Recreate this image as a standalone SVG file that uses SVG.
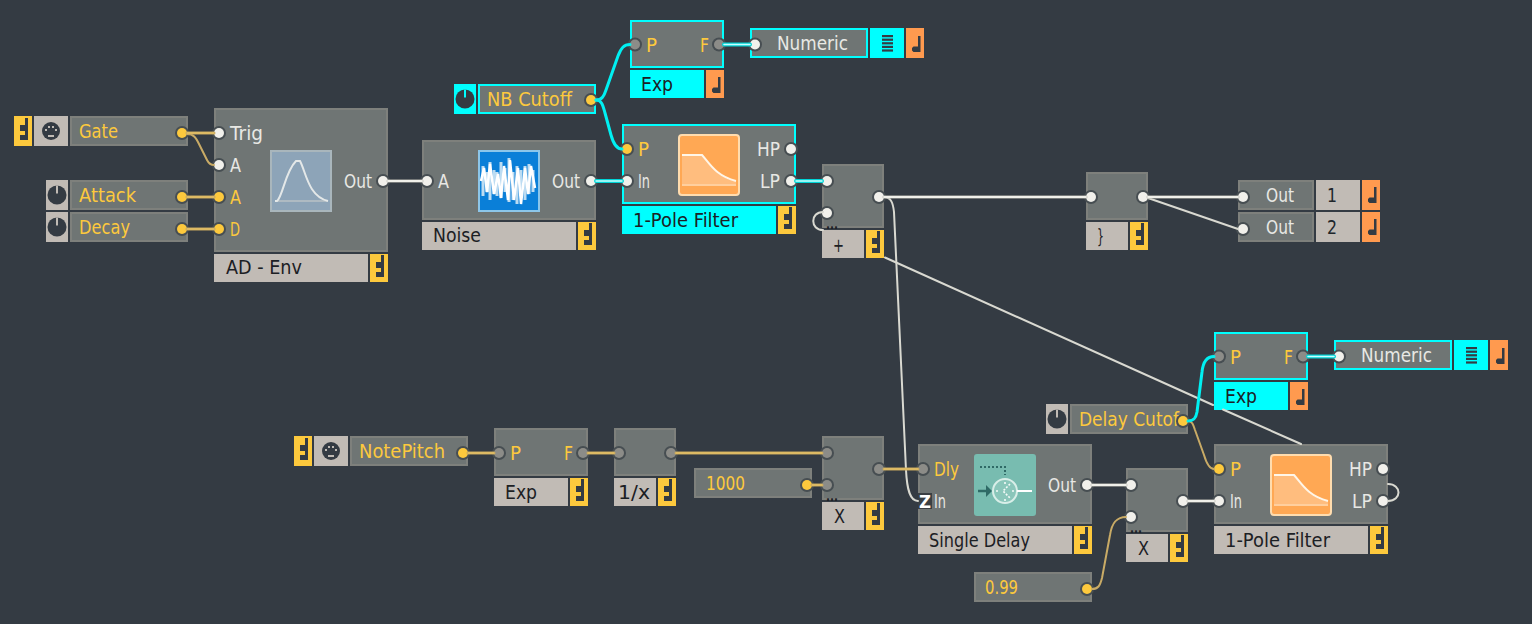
<svg xmlns="http://www.w3.org/2000/svg" width="1532" height="624" viewBox="0 0 1532 624">
<style>
text{font-family:"DejaVu Sans","Liberation Sans",sans-serif;font-size:20px;fill:#fff;transform:translate(0,1.5px)}
#node-gate text,#node-attack text,#node-decay text,#node-nbcutoff text,#node-numeric1 text,#node-numeric2 text,#node-out1 text,#node-out2 text,#node-notepitch text,#node-1000 text,#node-099 text,#node-delaycutoff text{transform:none}
.ty{fill:#fdc93d}.tw{fill:#e8e8e4}.tk{fill:#1c2024}.td{fill:#20262b}
.dots{font-size:14px;font-weight:bold}
.b{fill:#6f7574;stroke:#7e807c;stroke-width:2}
.c{fill:#6f7574;stroke:#00ffff;stroke-width:2}
.l{fill:#c1bbb5}.lc{fill:#00ffff}.y{fill:#fdc93d}.o{fill:#ff9a4f}
.h{fill:#474e52}
.pw{fill:#f1f0eb}.py{fill:#fdc93d}.pg{fill:#8c8c88}
.wire{fill:none;stroke-linecap:round;stroke-linejoin:round}
.w{stroke:#b9b9b2;stroke-width:3}.wc{stroke:#f0f0ea;stroke-width:1.800}
.thin{stroke:#d9d9d1;stroke-width:2}
.cy{stroke:#00d4d6;stroke-width:4}.cc{stroke:#c8ffff;stroke-width:1.500}
.cn{stroke:#00f0f2;stroke-width:3}
.t{stroke:#c4a55f;stroke-width:3}.tc{stroke:#f5cf6a;stroke-width:1.200}
.tn{stroke:#c9ab66;stroke-width:2}
.dk{fill:#343b43}
</style>
<defs>
<path id="ny" class="dk" d="M11 1h3v22h-8v-5h5v-4h-5v-6h5z"/>
<path id="no" class="dk" d="M12 7h2.500v16h-7l-1.500-1.500v-2.500l1.500-1.500h4.500z"/>
<g id="knob"><circle r="9.500" fill="#343b43"/><rect x="-1" y="-9.500" width="2" height="8" fill="#c1bbb5"/></g>
<g id="knobc"><circle r="9.500" fill="#343b43"/><rect x="-1" y="-9.500" width="2" height="8" fill="#00ffff"/></g>
<g id="midi"><circle r="9" fill="#343b43"/><g fill="#c1bbb5"><rect x="-6" y="-2" width="2" height="2"/><rect x="-3" y="-5" width="2" height="2"/><rect x="1" y="-5" width="2" height="2"/><rect x="4" y="-2" width="2" height="2"/><rect x="-3" y="4" width="6" height="2"/></g></g>
<g id="bars" class="dk"><rect width="11" height="2.200"/><rect y="3.600" width="11" height="2.200"/><rect y="7.200" width="11" height="2.200"/><rect y="10.800" width="11" height="2.200"/><rect y="14.400" width="11" height="2.200"/></g>
<g id="filt">
<rect x="1" y="1" width="60" height="60" rx="3" fill="#ffa854" stroke="#ffdcae" stroke-width="2"/>
<path d="M4 21H24C32 30 38 44 58 47V52H4z" fill="#ffbd7e"/>
<rect x="4" y="50" width="54" height="2" fill="#ffcf9e"/>
<path d="M4 21H24C32 30 38 42 58 47" fill="none" stroke="#fff6e8" stroke-width="2"/>
</g>
</defs>
<rect width="1532" height="624" fill="#343b43"/>

<g id="node-gate"><rect class="y" x="14" y="116" width="18" height="30"/><use href="#ny" x="14" y="117"/><rect class="l" x="34" y="116" width="34" height="30"/><use href="#midi" x="51" y="131"/><rect class="b" x="71" y="117" width="116" height="28"/><text class="ty" x="79" y="138" textLength="39" lengthAdjust="spacingAndGlyphs">Gate</text><circle class="h" cx="182" cy="133" r="7"/><circle class="py" cx="182" cy="133" r="5"/></g>
<g id="node-attack"><rect class="l" x="46" y="180" width="22" height="30"/><use href="#knob" x="57" y="195"/><rect class="b" x="71" y="181" width="116" height="28"/><text class="ty" x="79" y="202" textLength="57" lengthAdjust="spacingAndGlyphs">Attack</text><circle class="h" cx="182" cy="197" r="7"/><circle class="py" cx="182" cy="197" r="5"/></g>
<g id="node-decay"><rect class="l" x="46" y="212" width="22" height="30"/><use href="#knob" x="57" y="227"/><rect class="b" x="71" y="213" width="116" height="28"/><text class="ty" x="79" y="234" textLength="51" lengthAdjust="spacingAndGlyphs">Decay</text><circle class="h" cx="182" cy="229" r="7"/><circle class="py" cx="182" cy="229" r="5"/></g>

<g id="node-adenv"><rect class="b" x="215" y="109" width="172" height="142"/>
<rect x="271" y="151" width="60" height="60" fill="#8da4b8" stroke="#a9b6bc" stroke-width="2"/>
<path d="M275 201H328" stroke="#aebac2" stroke-width="2" fill="none"/>
<path d="M275 201H277C283 196 285 172 296 161H300C306 172 308 196 328 201" stroke="#e4e8e8" stroke-width="2" fill="none"/>
<text class="tw" x="230" y="138" textLength="33" lengthAdjust="spacingAndGlyphs">Trig</text><text class="tw" x="230" y="170" textLength="11" lengthAdjust="spacingAndGlyphs">A</text><text class="ty" x="230" y="202" textLength="11" lengthAdjust="spacingAndGlyphs">A</text><text class="ty" x="230" y="234" textLength="10" lengthAdjust="spacingAndGlyphs">D</text><text class="tw" x="344" y="186" textLength="28" lengthAdjust="spacingAndGlyphs">Out</text>
<circle class="h" cx="219" cy="133" r="7"/><circle class="pw" cx="219" cy="133" r="5"/><circle class="h" cx="219" cy="165" r="7"/><circle class="pw" cx="219" cy="165" r="5"/><circle class="h" cx="219" cy="197" r="7"/><circle class="py" cx="219" cy="197" r="5"/><circle class="h" cx="219" cy="229" r="7"/><circle class="py" cx="219" cy="229" r="5"/><circle class="h" cx="383" cy="181" r="7"/><circle class="pw" cx="383" cy="181" r="5"/>
<rect class="l" x="214" y="254" width="154" height="28"/><text class="tk" x="226" y="272" textLength="76" lengthAdjust="spacingAndGlyphs">AD - Env</text><rect class="y" x="370" y="254" width="18" height="28"/><use href="#ny" x="370" y="254"/></g>

<g id="node-noise"><rect class="b" x="423" y="141" width="172" height="78"/>
<rect x="479" y="151" width="60" height="60" fill="#0a7fd8" stroke="#8cc6ea" stroke-width="2"/>
<path d="M483 166V196M487 172V192M490 162V200M494 170V194M497 172V196M501 162V198M505 168V192M509 158V202M513 172V200M517 166V204M521 170V196M525 166V200M529 164V194M533 170V192" stroke="#bcdcf2" stroke-width="3" fill="none"/>
<path d="M481 181L484 168 487 192 490 164 494 194 498 174 501 198 504 166 508 200 510 160 514 200 518 168 521 204 525 168 528 194 531 166 535 188" stroke="#fff" stroke-width="2.500" fill="none"/>
<text class="tw" x="438" y="186" textLength="11" lengthAdjust="spacingAndGlyphs">A</text><text class="tw" x="552" y="186" textLength="28" lengthAdjust="spacingAndGlyphs">Out</text>
<circle class="h" cx="427" cy="181" r="7"/><circle class="pw" cx="427" cy="181" r="5"/><circle class="h" cx="591" cy="181" r="7"/><circle class="pw" cx="591" cy="181" r="5"/>
<rect class="l" x="422" y="222" width="154" height="28"/><text class="tk" x="433" y="240" textLength="48" lengthAdjust="spacingAndGlyphs">Noise</text><rect class="y" x="578" y="222" width="18" height="28"/><use href="#ny" x="578" y="222"/></g>

<g id="node-nbcutoff"><rect class="lc" x="454" y="84" width="22" height="30"/><use href="#knobc" x="465" y="99"/><rect class="c" x="479" y="85" width="116" height="28"/><text class="ty" x="487" y="106" textLength="85" lengthAdjust="spacingAndGlyphs">NB Cutoff</text><circle class="h" cx="591" cy="100" r="7"/><circle class="py" cx="591" cy="100" r="5"/></g>

<g id="node-exp1"><rect class="c" x="631" y="21" width="92" height="46"/><text class="ty" x="646" y="50" textLength="11" lengthAdjust="spacingAndGlyphs">P</text><text class="ty" x="700" y="50" textLength="9" lengthAdjust="spacingAndGlyphs">F</text><circle class="h" cx="635" cy="44.500" r="7"/><circle class="pg" cx="635" cy="44.500" r="5"/><circle class="h" cx="719" cy="44.500" r="7"/><circle class="pg" cx="719" cy="44.500" r="5"/><rect class="lc" x="630" y="70" width="74" height="28"/><text class="tk" x="641" y="89" textLength="32" lengthAdjust="spacingAndGlyphs">Exp</text><rect class="o" x="706" y="70" width="18" height="28"/><use href="#no" x="706" y="70"/></g>

<g id="node-numeric1"><rect class="c" x="751" y="29" width="116" height="28"/><text class="tw" x="777" y="50" textLength="71" lengthAdjust="spacingAndGlyphs">Numeric</text><circle class="h" cx="755" cy="44.500" r="7"/><circle class="pw" cx="755" cy="44.500" r="5"/><rect class="lc" x="870" y="28" width="34" height="30"/><use href="#bars" x="882" y="35"/><rect class="o" x="906" y="28" width="18" height="30"/><use href="#no" x="906" y="29"/></g>

<g id="node-filter1"><rect class="c" x="623" y="125" width="172" height="78"/><use href="#filt" x="678" y="134"/>
<text class="ty" x="638" y="154" textLength="11" lengthAdjust="spacingAndGlyphs">P</text><text class="tw" x="638" y="186" textLength="12" lengthAdjust="spacingAndGlyphs">In</text><text class="tw" x="757" y="154" textLength="23" lengthAdjust="spacingAndGlyphs">HP</text><text class="tw" x="760" y="186" textLength="20" lengthAdjust="spacingAndGlyphs">LP</text>
<circle class="h" cx="627" cy="149" r="7"/><circle class="py" cx="627" cy="149" r="5"/><circle class="h" cx="627" cy="181" r="7"/><circle class="pw" cx="627" cy="181" r="5"/><circle class="h" cx="791" cy="149" r="7"/><circle class="pw" cx="791" cy="149" r="5"/><circle class="h" cx="791" cy="181" r="7"/><circle class="pw" cx="791" cy="181" r="5"/>
<rect class="lc" x="622" y="206" width="154" height="28"/><text class="tk" x="633" y="225" textLength="105" lengthAdjust="spacingAndGlyphs">1-Pole Filter</text><rect class="y" x="778" y="206" width="18" height="28"/><use href="#ny" x="778" y="206"/></g>

<g id="node-plus"><rect class="b" x="823" y="165" width="60" height="62"/><text class="tk dots" x="826" y="227" textLength="12" lengthAdjust="spacingAndGlyphs">...</text><circle class="h" cx="827" cy="181" r="7"/><circle class="pw" cx="827" cy="181" r="5"/><circle class="h" cx="827" cy="213" r="7"/><circle class="pw" cx="827" cy="213" r="5"/><circle class="h" cx="879" cy="197" r="7"/><circle class="pw" cx="879" cy="197" r="5"/><rect class="l" x="822" y="230" width="42" height="28"/><text class="tk" x="833" y="250" textLength="11" lengthAdjust="spacingAndGlyphs">+</text><rect class="y" x="866" y="230" width="18" height="28"/><use href="#ny" x="866" y="230"/></g>

<g id="node-brace"><rect class="b" x="1087" y="173" width="60" height="46"/><circle class="h" cx="1091" cy="197" r="7"/><circle class="pw" cx="1091" cy="197" r="5"/><circle class="h" cx="1143" cy="197" r="7"/><circle class="pw" cx="1143" cy="197" r="5"/><rect class="l" x="1086" y="222" width="42" height="28"/><text class="tk" x="1097" y="241" textLength="7" lengthAdjust="spacingAndGlyphs">}</text><rect class="y" x="1130" y="222" width="18" height="28"/><use href="#ny" x="1130" y="222"/></g>

<g id="node-out1"><rect class="b" x="1239" y="181" width="74" height="28"/><text class="tw" x="1266" y="202" textLength="28" lengthAdjust="spacingAndGlyphs">Out</text><circle class="h" cx="1243" cy="197" r="7"/><circle class="pw" cx="1243" cy="197" r="5"/><rect class="l" x="1316" y="180" width="44" height="30"/><text class="td" x="1327" y="202" textLength="10" lengthAdjust="spacingAndGlyphs">1</text><rect class="o" x="1362" y="180" width="18" height="30"/><use href="#no" x="1362" y="180"/></g>
<g id="node-out2"><rect class="b" x="1239" y="213" width="74" height="28"/><text class="tw" x="1266" y="234" textLength="28" lengthAdjust="spacingAndGlyphs">Out</text><circle class="h" cx="1243" cy="229" r="7"/><circle class="pw" cx="1243" cy="229" r="5"/><rect class="l" x="1316" y="212" width="44" height="30"/><text class="td" x="1327" y="234" textLength="10" lengthAdjust="spacingAndGlyphs">2</text><rect class="o" x="1362" y="212" width="18" height="30"/><use href="#no" x="1362" y="212"/></g>

<g id="node-notepitch"><rect class="y" x="294" y="436" width="18" height="30"/><use href="#ny" x="294" y="437"/><rect class="l" x="314" y="436" width="34" height="30"/><use href="#midi" x="331" y="451"/><rect class="b" x="351" y="437" width="116" height="28"/><text class="ty" x="359" y="458" textLength="86" lengthAdjust="spacingAndGlyphs">NotePitch</text><circle class="h" cx="463" cy="453" r="7"/><circle class="py" cx="463" cy="453" r="5"/></g>

<g id="node-exp2"><rect class="b" x="495" y="429" width="92" height="46"/><text class="ty" x="510" y="458" textLength="11" lengthAdjust="spacingAndGlyphs">P</text><text class="ty" x="564" y="458" textLength="9" lengthAdjust="spacingAndGlyphs">F</text><circle class="h" cx="499" cy="453" r="7"/><circle class="pg" cx="499" cy="453" r="5"/><circle class="h" cx="583" cy="453" r="7"/><circle class="pg" cx="583" cy="453" r="5"/><rect class="l" x="494" y="478" width="74" height="28"/><text class="tk" x="505" y="497" textLength="32" lengthAdjust="spacingAndGlyphs">Exp</text><rect class="y" x="570" y="478" width="18" height="28"/><use href="#ny" x="570" y="478"/></g>

<g id="node-inv"><rect class="b" x="615" y="429" width="60" height="46"/><circle class="h" cx="619" cy="453" r="7"/><circle class="pg" cx="619" cy="453" r="5"/><circle class="h" cx="671" cy="453" r="7"/><circle class="pg" cx="671" cy="453" r="5"/><rect class="l" x="614" y="478" width="42" height="28"/><text class="tk" x="618" y="497" textLength="32" lengthAdjust="spacingAndGlyphs">1/x</text><rect class="y" x="658" y="478" width="18" height="28"/><use href="#ny" x="658" y="478"/></g>

<g id="node-1000"><rect class="b" x="695" y="469" width="116" height="28"/><text class="ty" x="706" y="490" textLength="39" lengthAdjust="spacingAndGlyphs">1000</text><circle class="h" cx="807" cy="485" r="7"/><circle class="py" cx="807" cy="485" r="5"/></g>

<g id="node-mul1"><rect class="b" x="823" y="437" width="60" height="62"/><text class="tk dots" x="826" y="499" textLength="12" lengthAdjust="spacingAndGlyphs">...</text><circle class="h" cx="827" cy="453" r="7"/><circle class="pg" cx="827" cy="453" r="5"/><circle class="h" cx="827" cy="485" r="7"/><circle class="pg" cx="827" cy="485" r="5"/><circle class="h" cx="879" cy="469" r="7"/><circle class="pg" cx="879" cy="469" r="5"/><rect class="l" x="822" y="502" width="42" height="28"/><text class="tk" x="834" y="521" textLength="11" lengthAdjust="spacingAndGlyphs">X</text><rect class="y" x="866" y="502" width="18" height="28"/><use href="#ny" x="866" y="502"/></g>

<g id="node-delay"><rect class="b" x="919" y="445" width="172" height="78"/>
<rect x="974" y="454" width="62" height="62" rx="3" fill="#78bcb0"/>
<path d="M980 467H1005V475" fill="none" stroke="#2f6a66" stroke-width="2" stroke-dasharray="2 2"/>
<circle cx="1005" cy="491" r="12" fill="#8ac6ba" stroke="#d8eee8" stroke-width="2"/>
<path d="M978 491H990" stroke="#2f6a66" stroke-width="2.500"/><path d="M986 485L992 491 986 497z" fill="#2f6a66"/>
<path d="M1017 491H1032" stroke="#fff" stroke-width="2"/>
<path d="M1010 484L1003 491 1010 498M1005 482V484M1005 499V501M996 491H998M1012 491H1014" fill="none" stroke="#f4faf8" stroke-width="1.600" stroke-dasharray="2 1.500"/>
<text class="ty" x="934" y="474" textLength="25" lengthAdjust="spacingAndGlyphs">Dly</text><text class="tw" x="934" y="506" textLength="12" lengthAdjust="spacingAndGlyphs">In</text><text class="tw" x="1048" y="490" textLength="28" lengthAdjust="spacingAndGlyphs">Out</text>
<circle class="h" cx="923" cy="469" r="7"/><circle class="pg" cx="923" cy="469" r="5"/><circle class="h" cx="1087" cy="485" r="7"/><circle class="pw" cx="1087" cy="485" r="5"/>
<rect x="918" y="493" width="14" height="16" fill="#3a3f43"/><text x="919" y="506" style="font-size:17px;font-weight:bold" textLength="12" lengthAdjust="spacingAndGlyphs">Z</text>
<rect class="l" x="918" y="526" width="154" height="28"/><text class="tk" x="929" y="545" textLength="101" lengthAdjust="spacingAndGlyphs">Single Delay</text><rect class="y" x="1074" y="526" width="18" height="28"/><use href="#ny" x="1074" y="526"/></g>

<g id="node-mul2"><rect class="b" x="1127" y="469" width="60" height="62"/><text class="tk dots" x="1130" y="531" textLength="12" lengthAdjust="spacingAndGlyphs">...</text><circle class="h" cx="1131" cy="485" r="7"/><circle class="pw" cx="1131" cy="485" r="5"/><circle class="h" cx="1131" cy="517" r="7"/><circle class="pw" cx="1131" cy="517" r="5"/><circle class="h" cx="1183" cy="501" r="7"/><circle class="pw" cx="1183" cy="501" r="5"/><rect class="l" x="1126" y="534" width="42" height="28"/><text class="tk" x="1138" y="553" textLength="11" lengthAdjust="spacingAndGlyphs">X</text><rect class="y" x="1170" y="534" width="18" height="28"/><use href="#ny" x="1170" y="534"/></g>

<g id="node-099"><rect class="b" x="975" y="573" width="116" height="28"/><text class="ty" x="985" y="594" textLength="33" lengthAdjust="spacingAndGlyphs">0.99</text><circle class="h" cx="1087" cy="589" r="7"/><circle class="py" cx="1087" cy="589" r="5"/></g>

<g id="node-delaycutoff"><rect class="l" x="1046" y="404" width="22" height="30"/><use href="#knob" x="1057" y="419"/><rect class="b" x="1071" y="405" width="116" height="28"/><text class="ty" x="1079" y="426" textLength="100" lengthAdjust="spacingAndGlyphs">Delay Cutof</text><circle class="h" cx="1183" cy="421" r="7"/><circle class="py" cx="1183" cy="421" r="5"/></g>

<g id="node-exp3"><rect class="c" x="1215" y="333" width="92" height="46"/><text class="ty" x="1230" y="362" textLength="11" lengthAdjust="spacingAndGlyphs">P</text><text class="ty" x="1284" y="362" textLength="9" lengthAdjust="spacingAndGlyphs">F</text><circle class="h" cx="1219" cy="356.500" r="7"/><circle class="pg" cx="1219" cy="356.500" r="5"/><circle class="h" cx="1303" cy="356.500" r="7"/><circle class="pg" cx="1303" cy="356.500" r="5"/><rect class="lc" x="1214" y="382" width="74" height="28"/><text class="tk" x="1225" y="401" textLength="32" lengthAdjust="spacingAndGlyphs">Exp</text><rect class="o" x="1290" y="382" width="18" height="28"/><use href="#no" x="1290" y="382"/></g>

<g id="node-numeric2"><rect class="c" x="1335" y="341" width="116" height="28"/><text class="tw" x="1361" y="362" textLength="71" lengthAdjust="spacingAndGlyphs">Numeric</text><circle class="h" cx="1339" cy="356.500" r="7"/><circle class="pw" cx="1339" cy="356.500" r="5"/><rect class="lc" x="1454" y="340" width="34" height="30"/><use href="#bars" x="1466" y="347"/><rect class="o" x="1490" y="340" width="18" height="30"/><use href="#no" x="1490" y="341"/></g>

<g id="node-filter2"><rect class="b" x="1215" y="445" width="172" height="78"/><use href="#filt" x="1270" y="454"/>
<text class="ty" x="1230" y="474" textLength="11" lengthAdjust="spacingAndGlyphs">P</text><text class="tw" x="1230" y="506" textLength="12" lengthAdjust="spacingAndGlyphs">In</text><text class="tw" x="1349" y="474" textLength="23" lengthAdjust="spacingAndGlyphs">HP</text><text class="tw" x="1352" y="506" textLength="20" lengthAdjust="spacingAndGlyphs">LP</text>
<circle class="h" cx="1219" cy="469" r="7"/><circle class="py" cx="1219" cy="469" r="5"/><circle class="h" cx="1219" cy="501" r="7"/><circle class="pw" cx="1219" cy="501" r="5"/><circle class="h" cx="1383" cy="469" r="7"/><circle class="pw" cx="1383" cy="469" r="5"/><circle class="h" cx="1383" cy="501" r="7"/><circle class="pw" cx="1383" cy="501" r="5"/>
<rect class="l" x="1214" y="526" width="154" height="28"/><text class="tk" x="1225" y="545" textLength="105" lengthAdjust="spacingAndGlyphs">1-Pole Filter</text><rect class="y" x="1370" y="526" width="18" height="28"/><use href="#ny" x="1370" y="526"/></g>

<g id="connectors" class="wire">
<path class="thin wire" d="M885 257.500L1213 405M1223 409.500L1301 444"/>
<path class="thin wire" d="M884 197C891 197 893 203 894 212L906 470C907 490 910 501 918 501"/>
<path class="thin wire" d="M1148 198L1238 229"/>
<path class="thin wire" d="M823 212C810 212 810 230 823 230"/>
<path class="thin wire" d="M1388 484C1402 484 1402 501 1388 501"/>
<path class="tn wire" d="M187 134C194 134 196 138 199 144L207 160C209 164 212 165 214 165"/>
<path class="tn wire" d="M1188 421C1192 421 1193 424 1195 430L1204 455C1207 465 1210 469 1214 469"/>
<path class="tn wire" d="M1092 589C1098 589 1100 586 1102 578L1110 535C1112 522 1117 517 1126 517"/>
<path class="cn wire" d="M596 100C602 100 604 96 606 90L618 56C621 48 624 44.500 630 44.500"/>
<path class="cn wire" d="M596 100C602 100 603 106 605 113L611 135C614 146 618 149 622 149"/>
<path class="cn wire" d="M1188 421C1194 421 1196 418 1197 412L1202 372C1203 362 1207 356.500 1214 356.500"/>
<path class="t wire" d="M187 133H214M187 197H214M187 229H214M468 453H494M588 453H614M676 453H822M812 485H822M884 469H918"/>
<path class="tc wire" d="M187 133H214M187 197H214M187 229H214M468 453H494M588 453H614M676 453H822M812 485H822M884 469H918"/>
<path class="w wire" d="M388 181H422M884 197H1086M1148 197H1238M1092 485H1126M1188 501H1214"/>
<path class="wc wire" d="M388 181H422M884 197H1086M1148 197H1238M1092 485H1126M1188 501H1214"/>
<path class="cy wire" d="M596 181H622M796 181H822M724 44.500H750M1308 356.500H1334"/>
<path class="cc wire" d="M596 181H622M796 181H822M724 44.500H750M1308 356.500H1334"/>
</g>
</svg>
